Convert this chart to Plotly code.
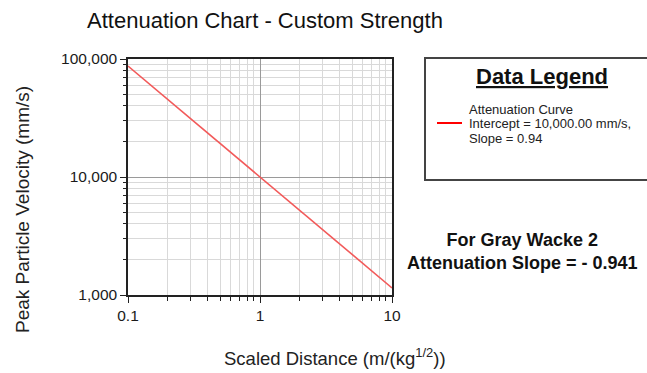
import plotly.graph_objects as go

# Data
scaled_distance = [0.1, 1, 10]
peak_velocity = [87100, 10000, 1148]
x_tick_vals = [0.1, 1, 10]
x_tick_text = ["0.1", "1", "10"]
y_tick_vals = [1000, 10000, 100000]
y_tick_text = ["1,000", "10,000", "100,000"]
legend_lines = ["Attenuation Curve", "Intercept = 10,000.00 mm/s,", "Slope = 0.94"]

FONT = "Liberation Sans, Arial, sans-serif"
TXT = "#1a1a1a"

fig = go.Figure()
fig.add_trace(go.Scatter(x=scaled_distance, y=peak_velocity, mode="lines",
                         line=dict(color="#f25a5a", width=1.6), showlegend=False))

L, R, T, B = 128, 255, 59, 78
W, H = 647, 373
pw, ph = W - L - R, H - T - B

def px(x):
    return (x - L) / pw

def py(y):
    return (H - B - y) / ph

fig.update_layout(
    width=W, height=H,
    margin=dict(l=L, r=R, t=T, b=B),
    paper_bgcolor="white", plot_bgcolor="white",
    font=dict(family=FONT, color=TXT),
    title=dict(text="Attenuation Chart - Custom Strength", x=265 / W, xanchor="center",
               y=1 - 20 / H, yanchor="middle", font=dict(size=22, color="#111")),
    xaxis=dict(type="log", range=[-1, 1], tickvals=x_tick_vals, ticktext=x_tick_text,
               showline=True, linecolor="#222", linewidth=1.5, mirror=True,
               ticks="outside", ticklen=6, tickcolor="#222",
               showgrid=True, gridcolor="#9a9a9a", gridwidth=1,
               minor=dict(showgrid=True, gridcolor="#d9d9d9", ticks="outside",
                          ticklen=4, tickcolor="#222", dtick="D1"),
               tickfont=dict(size=15.5, color=TXT), zeroline=False),
    yaxis=dict(type="log", range=[3, 5], tickvals=y_tick_vals, ticktext=y_tick_text,
               showline=True, linecolor="#222", linewidth=1.5, mirror=True,
               ticks="outside", ticklen=6, tickcolor="#222",
               showgrid=True, gridcolor="#9a9a9a", gridwidth=1,
               minor=dict(showgrid=True, gridcolor="#d9d9d9", ticks="outside",
                          ticklen=3, tickcolor="#222", dtick="D1"),
               tickfont=dict(size=15.5, color=TXT), zeroline=False),
)

annotations = [
    dict(text="Peak Particle Velocity (mm/s)", x=px(22), y=py(210), textangle=-90,
         font=dict(size=19, color="#222")),
    dict(text="Scaled Distance (m/(kg<sup>1/2</sup>))", x=px(335), y=py(357),
         font=dict(size=18.5, color="#222")),
    dict(text="<b><u>Data Legend</u></b>", x=px(542), y=py(76),
         font=dict(size=22, color="#111")),
    dict(text="<b>For Gray Wacke 2<br>Attenuation Slope = - 0.941</b>",
         x=px(522), y=py(251), font=dict(size=18, color="#111")),
]
for i, line in enumerate(legend_lines):
    annotations.append(dict(text=line, x=px(467), y=py(109 + 14.5 * i), xanchor="left",
                            font=dict(size=13, color="#222")))
for a in annotations:
    a.setdefault("xref", "paper")
    a.setdefault("yref", "paper")
    a.setdefault("showarrow", False)
    a.setdefault("xanchor", "center")
    a.setdefault("yanchor", "middle")
    fig.add_annotation(**a)

fig.add_shape(type="rect", xref="paper", yref="paper",
              x0=px(425), x1=px(660), y0=py(180), y1=py(58),
              line=dict(color="#444", width=2), fillcolor="white", layer="below")
fig.add_shape(type="line", xref="paper", yref="paper",
              x0=px(437), x1=px(462), y0=py(123), y1=py(123),
              line=dict(color="#ff0000", width=2))

fig.write_html("out.html")
